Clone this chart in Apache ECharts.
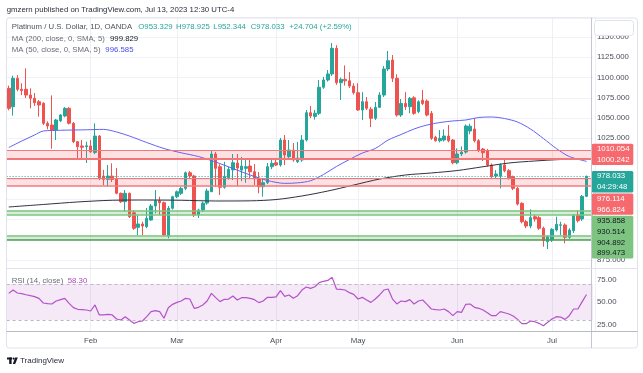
<!DOCTYPE html>
<html><head><meta charset="utf-8">
<script src="https://cdn.jsdelivr.net/npm/echarts@6.0.0/dist/echarts.min.js"></script>
<style>html,body{margin:0;padding:0;background:#fff}#c{width:643px;height:373px}</style>
</head><body><div id="c"></div>
<script>
// ---------- DATA ----------
const startDate = '2023-01-05';
const endDate = '2023-07-13';
const closedDays = ['2023-04-07'];
const trailingSlots = ['2023-07-14'];
const monthAbbr = ['Jan','Feb','Mar','Apr','May','Jun','Jul','Aug','Sep','Oct','Nov','Dec'];

const open = [1086.7,1064.0,1099.1,1085.5,1085.5,1078.4,1074.4,1070.2,1068.2,1043.5,
1041.4,1035.2,1046.7,1052.5,1062.0,1043.5,1020.8,1015.5,1014.6,1015.5,
1007.5,1027.8,978.3,974.4,978.3,974.3,957.1,946.7,957.1,933.1,
915.1,919.2,915.8,924.1,941.4,947.9,945.5,904.4,938.6,952.9,
957.1,963.2,982.5,978.4,930.3,936.4,945.0,959.0,1005.6,989.9,
964.5,976.3,986.0,994.5,985.8,987.9,990.8,983.7,975.6,965.2,
970.2,989.9,994.8,992.0,1022.9,1002.3,1010.5,996.1,998.2,1022.9,
1056.6,1052.0,1055.8,1088.0,1097.0,1104.4,1136.1,1093.6,1097.8,1096.0,
1089.5,1081.3,1060.0,1070.2,1060.8,1049.7,1063.2,1078.4,1110.6,1121.7,
1099.1,1053.7,1068.0,1064.0,1075.0,1058.0,1072.0,1071.0,1055.8,1026.2,
1022.0,1022.9,1027.8,1022.9,994.8,1005.6,1008.0,1034.0,1036.5,1022.0,
1011.8,1009.7,992.0,978.4,978.4,992.0,985.0,977.6,963.2,944.7,
922.0,916.7,928.2,927.0,913.9,897.3,899.4,911.8,917.6,918.0,
902.8,910.9,930.3,925.4,953.329];
const close = [1062.0,1099.1,1085.5,1084.0,1078.4,1074.4,1068.9,1066.1,1043.5,1040.2,
1035.2,1047.6,1053.7,1062.0,1043.5,1020.8,1014.6,1013.9,1015.8,1008.4,
1027.8,975.6,974.3,978.4,974.3,957.1,946.7,957.1,928.2,913.9,
919.2,916.7,926.2,941.4,947.9,945.5,905.6,938.6,952.9,959.0,
963.2,982.5,978.4,930.3,936.5,945.0,960.0,1005.6,987.9,964.5,
977.6,986.7,994.8,988.3,990.7,989.9,983.7,975.6,965.2,970.2,
989.9,994.1,992.0,1022.9,1004.4,1010.5,998.2,1000.7,1022.9,1056.6,
1052.5,1056.0,1088.0,1097.0,1104.4,1136.1,1093.6,1097.8,1096.0,1089.5,
1081.3,1060.0,1070.2,1062.0,1049.7,1063.2,1078.4,1110.6,1120.8,1099.1,
1053.7,1068.0,1064.0,1074.4,1055.8,1070.0,1068.0,1053.7,1025.0,1022.0,
1025.0,1027.8,1022.0,994.8,1005.6,1008.0,1040.2,1040.0,1022.0,1010.5,
1007.2,992.0,977.6,980.9,992.0,985.0,976.3,963.2,943.9,922.0,
916.7,927.0,925.4,913.9,898.6,903.5,912.6,918.8,918.2,902.8,
911.8,929.4,923.3,953.329,978.033];
const low = [1059.5,1052.9,1083.0,1078.4,1074.7,1062.0,1064.9,1051.7,1041.4,1036.0,
1012.0,1022.9,1045.0,1051.0,1042.0,1019.0,1000.7,1000.7,994.5,1007.0,
1005.5,973.3,967.3,965.0,971.0,956.0,945.1,934.4,926.6,912.0,
905.6,905.6,914.0,923.0,932.4,930.3,904.3,901.5,937.0,951.0,
955.0,961.0,976.0,927.8,926.6,934.0,943.0,958.7,965.0,955.0,
962.8,974.0,973.5,966.0,972.0,970.0,975.0,967.3,957.1,952.9,
968.5,987.0,990.8,990.0,992.0,998.2,996.1,994.5,996.0,1021.0,
1050.0,1048.0,1053.7,1086.0,1095.0,1102.0,1091.0,1072.3,1090.0,1087.0,
1079.0,1058.7,1047.6,1060.0,1038.9,1047.6,1062.4,1076.0,1108.0,1094.5,
1051.7,1051.3,1060.0,1056.0,1054.0,1056.0,1066.0,1052.0,1023.0,1020.8,
1020.0,1021.0,1020.0,993.0,993.0,1003.0,1006.0,1030.0,1020.0,1008.0,
997.0,990.0,975.0,975.8,963.2,983.0,974.0,961.0,942.0,920.0,
914.0,914.0,922.0,912.0,891.2,888.3,897.0,910.0,905.6,895.4,
901.0,908.0,921.0,923.0,952.344];
const high = [1090.0,1102.3,1103.0,1093.0,1111.4,1086.7,1080.9,1072.3,1069.5,1046.0,
1078.0,1049.0,1055.0,1063.6,1063.5,1045.0,1021.5,1022.9,1020.8,1022.9,
1043.5,1029.0,986.0,992.0,994.1,988.3,958.0,961.2,958.0,936.5,
930.3,922.0,938.9,943.9,961.2,952.9,947.0,941.4,954.0,960.5,
965.0,984.0,984.6,980.0,938.0,947.0,963.0,1009.7,1008.0,993.0,
996.0,990.0,1005.6,1005.6,1002.0,1000.0,998.2,993.2,983.4,976.0,
994.5,998.2,998.2,1025.4,1029.0,1022.9,1019.2,1020.4,1029.0,1059.9,
1064.9,1060.0,1097.0,1100.7,1109.3,1142.6,1140.0,1100.0,1115.0,1106.8,
1093.0,1093.0,1082.0,1076.0,1063.6,1069.8,1082.0,1114.2,1132.8,1127.8,
1104.0,1073.5,1082.0,1076.0,1077.0,1072.0,1084.6,1073.0,1058.7,1028.0,
1035.2,1036.0,1041.4,1024.0,1012.6,1015.0,1042.0,1043.0,1049.7,1024.0,
1013.0,1012.0,994.0,985.8,994.0,1000.3,987.0,979.0,965.0,946.0,
924.0,937.3,931.0,929.0,916.0,905.0,914.0,928.2,922.0,920.0,
914.0,931.6,936.5,955.0,978.925];

// moving averages: [bar index, value]
const ma200 = [[0,940.2],[8,943.3],[16,946.4],[24,948.5],[32,948.8],[40,948.5],[48,947.6],[56,947.8],
[62,949.4],[68,953.8],[74,959.9],[80,967.3],[86,974.7],[92,979.7],[98,982.2],[104,985.2],
[110,989.9],[116,994.5],[122,997.0],[128,998.8],[134,999.829]];
const ma50 = [[0,1013.6],[3,1021.6],[6,1029.1],[8,1034.0],[12,1034.9],[18,1035.5],[22,1036.0],[25,1032.8],
[28,1027.8],[32,1019.8],[36,1012.4],[40,1007.1],[44,1002.5],[48,995.7],[52,987.7],[56,979.7],
[60,972.9],[64,969.4],[67,970.0],[70,972.6],[73,980.3],[76,990.2],[79,998.8],[82,1006.8],
[85,1012.4],[88,1022.9],[91,1029.7],[94,1036.5],[97,1041.4],[100,1044.5],[103,1046.4],[106,1047.6],
[109,1050.7],[112,1051.3],[115,1049.4],[118,1045.1],[121,1036.5],[124,1024.7],[127,1012.4],[130,1002.5],[134,996.585]];

const rsi = [59.6,63.3,60,59.3,58.1,57,56,54,48.9,48.1,
47.8,51.1,52.6,54.1,48.5,43.7,41.9,41.5,41.1,40,
46.7,35.6,35.6,36.3,35.6,31.1,30,33.7,30,26.3,
28.1,28.9,33.7,39.3,40.4,39.3,31.9,43.7,47.4,49.6,
51.1,54.1,53.3,43,44.1,46.7,51.1,59.6,54.8,50.4,
53,53.3,56.7,52.2,54.8,54.8,54.1,52.6,49.3,51.1,
55.2,55.2,55.6,62.6,56.3,57.8,54.1,57,63.3,66.7,
65.2,67,71.5,73,74,77.4,64.4,64.1,63.3,60.4,
58.5,53.3,55.2,52.2,49.6,53.3,57.8,63.3,64.4,53.3,
47.8,51.1,50.4,52.6,47.8,51.1,52.2,47.4,42.2,41.5,
41.1,42.2,39.3,34.8,39.3,38.5,47.4,47.8,44.1,43,
41.1,38.1,34.8,34.8,39.3,38.1,36.7,34.4,30.7,25.9,
25.9,28.9,28.1,26.3,23.7,27.4,31.1,33.7,33.3,30.7,
34.8,42.2,42.2,50.4,58.30];

const redZones = [[1000.242, 1010.054], [966.824, 976.114]];
const greenZones = [[930.514, 935.858], [899.473, 904.892]];
const rsiBands = [30, 70];
const priceAxis = {min: 875, max: 1175, step: 25, hidden: [1175]};
const rsiAxis = {min: 0, max: 100, step: 25, shown: [25, 50, 75]};

const HEADER = 'gmzern published on TradingView.com, Jul 13, 2023 12:30 UTC-4';
const SYMBOL = 'Platinum / U.S. Dollar, 1D, OANDA';
const MA200_LABEL = 'MA (200, close, 0, SMA, 5)';
const MA50_LABEL = 'MA (50, close, 0, SMA, 5)';
const RSI_LABEL = 'RSI (14, close)';
const COUNTDOWN = '04:29:48';
const BRAND = 'TradingView';

// ---------- BUILD ----------
function tradingDays(s, e, skip) {
  const out = []; const d = new Date(s + 'T00:00:00Z'); const end = new Date(e + 'T00:00:00Z');
  while (d <= end) {
    const wd = d.getUTCDay(); const iso = d.toISOString().slice(0, 10);
    if (wd !== 0 && wd !== 6 && skip.indexOf(iso) < 0) out.push(iso);
    d.setUTCDate(d.getUTCDate() + 1);
  }
  return out;
}
const barDates = tradingDays(startDate, endDate, closedDays);
const dates = barDates.concat(trailingSlots);
const monthStart = new Set();
for (let i = 1; i < barDates.length; i++) if (barDates[i].slice(5, 7) !== barDates[i - 1].slice(5, 7)) monthStart.add(i);

const candles = barDates.map((d, i) => [open[i], close[i], low[i], high[i]]);
const n = close.length;
const lastO = open[n - 1], lastH = high[n - 1], lastL = low[n - 1], lastC = close[n - 1];
const chg = lastC - close[n - 2];
const pct = chg / close[n - 2] * 100;

const UP = '#26a69a', DOWN = '#ef5350';
const FONT = "'Liberation Sans', Arial, sans-serif";
const FS = 7.8;
const AX = '#4a4e59';

const LEFT = 6.6, RIGHT_EDGE = 593, W = RIGHT_EDGE - LEFT;
const half = W / dates.length / 2;

const option = {
  animation: false,
  backgroundColor: '#fff',
  grid: [
    {left: LEFT + half, width: W, top: 17, height: 314, outerBoundsMode: 'none'},
    {left: LEFT, width: W, top: 16.8, height: 243, outerBoundsMode: 'none'},
    {left: LEFT, width: W, top: 257, height: 90, outerBoundsMode: 'none'}
  ],
  xAxis: [
    {type: 'category', gridIndex: 0, data: dates, boundaryGap: true,
      axisLine: {show: false}, axisTick: {show: false},
      axisLabel: {interval: (i) => monthStart.has(i), formatter: (v) => monthAbbr[+v.slice(5, 7) - 1],
        fontSize: FS, fontFamily: FONT, color: AX, margin: 5.5, padding: [0, half * 2, 0, 0]},
      splitLine: {show: true, interval: (i) => monthStart.has(i), lineStyle: {color: '#eef0f5', width: 1}}},
    {type: 'category', gridIndex: 1, data: dates, boundaryGap: true, show: false},
    {type: 'category', gridIndex: 2, data: dates, boundaryGap: true, show: false}
  ],
  yAxis: [
    {type: 'value', gridIndex: 0, show: false, min: 0, max: 1},
    {type: 'value', gridIndex: 1, position: 'right', min: priceAxis.min, max: priceAxis.max, interval: priceAxis.step,
      axisLine: {show: false}, axisTick: {show: false},
      axisLabel: {margin: 4, fontSize: FS, fontFamily: FONT, color: AX,
        formatter: (v) => priceAxis.hidden.indexOf(v) >= 0 ? '' : v.toFixed(3)},
      splitLine: {show: true, lineStyle: {color: '#f0f2f6', width: 1}}},
    {type: 'value', gridIndex: 2, position: 'right', min: rsiAxis.min, max: rsiAxis.max, interval: rsiAxis.step,
      axisLine: {show: false}, axisTick: {show: false}, splitLine: {show: false},
      axisLabel: {margin: 4, fontSize: FS, fontFamily: FONT, color: AX,
        formatter: (v) => rsiAxis.shown.indexOf(v) >= 0 ? v.toFixed(2) : ''}}
  ],
  series: [
    {type: 'candlestick', xAxisIndex: 1, yAxisIndex: 1, data: candles, barWidth: 3,
      itemStyle: {color: UP, color0: DOWN, borderColor: UP, borderColor0: DOWN, borderWidth: 1},
      markArea: {silent: true, label: {show: false}, data: [
        [{yAxis: redZones[0][0], itemStyle: {color: 'rgba(242,54,69,0.15)'}}, {yAxis: redZones[0][1]}],
        [{yAxis: redZones[1][0], itemStyle: {color: 'rgba(242,54,69,0.15)'}}, {yAxis: redZones[1][1]}],
        [{yAxis: greenZones[0][0], itemStyle: {color: 'rgba(76,175,80,0.22)'}}, {yAxis: greenZones[0][1]}],
        [{yAxis: greenZones[1][0], itemStyle: {color: 'rgba(76,175,80,0.22)'}}, {yAxis: greenZones[1][1]}]
      ]},
      markLine: {silent: true, symbol: ['none', 'none'], label: {show: false}, data: [
        {yAxis: redZones[0][1], lineStyle: {color: '#f2777b', width: 1, type: 'solid'}},
        {yAxis: redZones[0][0], lineStyle: {color: '#f2777b', width: 2, type: 'solid'}},
        {yAxis: redZones[1][1], lineStyle: {color: '#f2777b', width: 1, type: 'solid'}},
        {yAxis: redZones[1][0], lineStyle: {color: '#f2777b', width: 1.5, type: 'solid'}},
        {yAxis: greenZones[0][1], lineStyle: {color: '#7cc47f', width: 1.5, type: 'solid'}},
        {yAxis: greenZones[0][0], lineStyle: {color: '#7cc47f', width: 1.5, type: 'solid'}},
        {yAxis: greenZones[1][1], lineStyle: {color: '#7cc47f', width: 1.5, type: 'solid'}},
        {yAxis: greenZones[1][0], lineStyle: {color: '#4f9d53', width: 1.5, type: 'solid'}},
        {yAxis: lastC, lineStyle: {color: UP, width: 1, type: [1, 2]}}
      ]}},
    {type: 'line', xAxisIndex: 1, yAxisIndex: 1, data: ma200, showSymbol: false, smooth: 0.3,
      lineStyle: {color: '#2f3240', width: 1}, z: 3},
    {type: 'line', xAxisIndex: 1, yAxisIndex: 1, data: ma50, showSymbol: false, smooth: 0.3,
      lineStyle: {color: '#6262f5', width: 1}, z: 3},
    {type: 'line', xAxisIndex: 2, yAxisIndex: 2, data: rsi, showSymbol: false,
      lineStyle: {color: '#b452c9', width: 1.2},
      markArea: {silent: true, label: {show: false}, itemStyle: {color: 'rgba(156,39,176,0.1)'},
        data: [[{yAxis: rsiBands[0]}, {yAxis: rsiBands[1]}]]},
      markLine: {silent: true, symbol: ['none', 'none'], label: {show: false},
        lineStyle: {color: '#b7b9c0', width: 1, type: [3, 3]},
        data: rsiBands.map(v => ({yAxis: v}))}}
  ]
};

const chart = echarts.init(document.getElementById('c'), null, {renderer: 'canvas'});
chart.setOption(option);

// ---------- overlays ----------
function txt(x, y, s, fill, size, weight) {
  return {type: 'text', x: x, y: y, z: 80, silent: true,
    style: {text: s, fill: fill, fontSize: size || FS, fontFamily: FONT, fontWeight: weight || 'normal',
      verticalAlign: 'middle', textVerticalAlign: 'middle', align: 'left'}};
}
const g = [];
// frame and separators
g.push({type: 'rect', z: 90, silent: true, shape: {x: 6.5, y: 18, width: 631, height: 330, r: 3},
  style: {fill: 'none', stroke: '#e0e3eb', lineWidth: 1}});
g.push({type: 'line', z: 90, silent: true, shape: {x1: 591.5, y1: 18, x2: 591.5, y2: 348}, style: {stroke: '#c3c6ce', lineWidth: 1}});
g.push({type: 'line', z: 90, silent: true, shape: {x1: 6.5, y1: 268.5, x2: 637.5, y2: 268.5}, style: {stroke: '#e0e3eb', lineWidth: 1}});
g.push({type: 'line', z: 90, silent: true, shape: {x1: 6.5, y1: 331.5, x2: 637.5, y2: 331.5}, style: {stroke: '#b8bbc3', lineWidth: 1}});
// top right small box
g.push({type: 'rect', z: 85, silent: true, shape: {x: 594.5, y: 20.5, width: 39, height: 15, r: 3},
  style: {fill: '#fff', stroke: '#e0e3eb', lineWidth: 1}});

// header & legends
g.push(txt(6.7, 9.5, HEADER, '#2a2e39', 7.8));
g.push(txt(11.7, 27.3, SYMBOL, '#50535e', 7.8));
g.push(txt(138.3, 27.3, 'O' + lastO.toFixed(3), UP, 7.8));
g.push(txt(176, 27.3, 'H' + lastH.toFixed(3), UP, 7.8));
g.push(txt(213.3, 27.3, 'L' + lastL.toFixed(3), UP, 7.8));
g.push(txt(250.7, 27.3, 'C' + lastC.toFixed(3), UP, 7.8));
g.push(txt(289.3, 27.3, (chg >= 0 ? '+' : '') + chg.toFixed(3) + ' (' + (chg >= 0 ? '+' : '') + pct.toFixed(2) + '%)', UP, 7.8));
g.push(txt(11.7, 39.3, MA200_LABEL, '#6a6d78', 7.8));
g.push(txt(110, 39.3, ma200[ma200.length - 1][1].toFixed(3), '#131722', 7.8));
g.push(txt(11.7, 50.3, MA50_LABEL, '#6a6d78', 7.8));
g.push(txt(105.3, 50.3, ma50[ma50.length - 1][1].toFixed(3), '#4a4af0', 7.8));
g.push(txt(11.7, 280.7, RSI_LABEL, '#6a6d78', 7.8));
g.push(txt(67.7, 280.7, rsi[rsi.length - 1].toFixed(2), '#ab47bc', 7.8));

// footer brand
g.push({type: 'rect', z: 80, silent: true, shape: {x: 7, y: 357.5, width: 5, height: 2}, style: {fill: '#131722'}});
g.push({type: 'rect', z: 80, silent: true, shape: {x: 9.2, y: 357.5, width: 2.4, height: 6.5}, style: {fill: '#131722'}});
g.push({type: 'circle', z: 80, silent: true, shape: {cx: 13.6, cy: 358.6, r: 1.1}, style: {fill: '#131722'}});
g.push({type: 'polygon', z: 80, silent: true, shape: {points: [[15.2, 357.5], [17.8, 357.5], [15.2, 364], [12.8, 364]]}, style: {fill: '#131722'}});
g.push(txt(20, 361, BRAND, '#2a2e39', 8));

// right side level labels (stacked like TradingView)
const yPix = (v) => chart.convertToPixel({yAxisIndex: 1}, v);
const groups = [
  {lines: [redZones[0][1].toFixed(3), redZones[0][0].toFixed(3)], values: redZones[0], bg: '#f6696e', fg: '#ffffff'},
  {lines: [lastC.toFixed(3), COUNTDOWN], values: [lastC], anchorFirst: true, bg: UP, fg: '#ffffff'},
  {lines: [redZones[1][1].toFixed(3), redZones[1][0].toFixed(3)], values: redZones[1], bg: '#f6696e', fg: '#ffffff'},
  {lines: [greenZones[0][1].toFixed(3), greenZones[0][0].toFixed(3), greenZones[1][1].toFixed(3), greenZones[1][0].toFixed(3)],
    values: greenZones[0].concat(greenZones[1]), bg: '#7cc47f', fg: '#131722'}
];
const LH = 10.7, GAP = 1;
let prevBottom = -1e9;
groups.forEach(gr => {
  const ys = gr.values.map(yPix);
  const h = gr.lines.length * LH;
  let top = gr.anchorFirst ? ys[0] - LH / 2 : ys.reduce((a, b) => a + b, 0) / ys.length - h / 2;
  top = Math.max(top, prevBottom + GAP);
  g.push({type: 'rect', z: 70, silent: true, shape: {x: 591.7, y: top, width: 41.6, height: h, r: 1.5}, style: {fill: gr.bg}});
  gr.lines.forEach((t, k) => g.push(txt(597, top + LH * (k + 0.5), t, gr.fg, FS)));
  prevBottom = top + h;
});

chart.setOption({graphic: g});
</script></body></html>
